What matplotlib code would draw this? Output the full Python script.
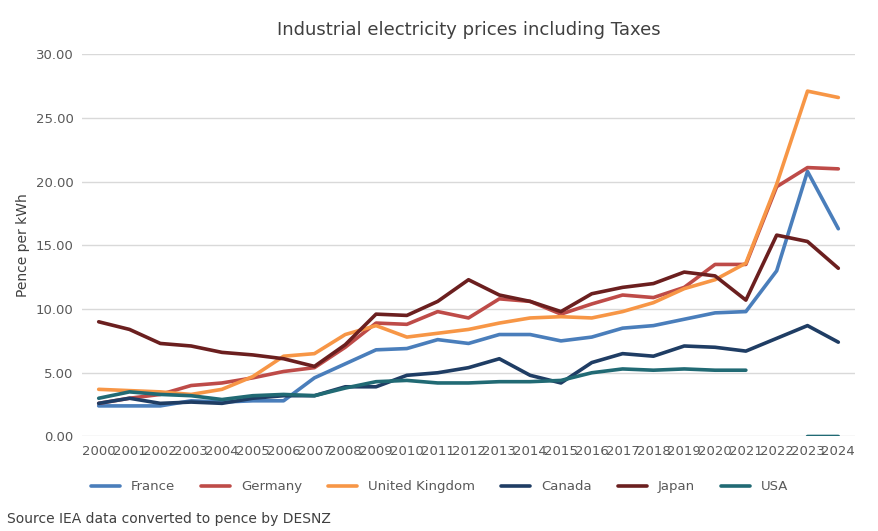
import matplotlib
matplotlib.use("Agg")
import matplotlib.pyplot as plt
import numpy as np

years = list(range(2000, 2025))
france = [2.4,2.4,2.4,2.8,2.7,2.8,2.8,4.6,5.7,6.8,6.9,7.6,7.3,8.0,8.0,7.5,7.8,8.5,8.7,9.2,9.7,9.8,13.0,20.8,16.3]
germany = [2.6,3.0,3.3,4.0,4.2,4.6,5.1,5.4,7.0,8.9,8.8,9.8,9.3,10.8,10.6,9.6,10.4,11.1,10.9,11.7,13.5,13.5,19.6,21.1,21.0]
uk = [3.7,3.6,3.5,3.3,3.7,4.7,6.3,6.5,8.0,8.7,7.8,8.1,8.4,8.9,9.3,9.4,9.3,9.8,10.5,11.6,12.3,13.6,19.8,27.1,26.6]
canada = [2.6,3.0,2.6,2.7,2.6,3.0,3.2,3.2,3.9,3.9,4.8,5.0,5.4,6.1,4.8,4.2,5.8,6.5,6.3,7.1,7.0,6.7,7.7,8.7,7.4]
japan = [9.0,8.4,7.3,7.1,6.6,6.4,6.1,5.5,7.2,9.6,9.5,10.6,12.3,11.1,10.6,9.8,11.2,11.7,12.0,12.9,12.6,10.7,15.8,15.3,13.2]
usa = [3.0,3.5,3.3,3.2,2.9,3.2,3.3,3.2,3.8,4.3,4.4,4.2,4.2,4.3,4.3,4.4,5.0,5.3,5.2,5.3,5.2,5.2,np.nan,0,0]

series = [("France", france, "#4a7ebb"), ("Germany", germany, "#be4b48"),
          ("United Kingdom", uk, "#f79646"), ("Canada", canada, "#1f3d64"),
          ("Japan", japan, "#6b1f1f"), ("USA", usa, "#216a74")]

fig = plt.figure(figsize=(8.79, 5.31), dpi=100)
ax = fig.add_axes([0.093, 0.178, 0.88, 0.72])
x = np.arange(len(years))
for name, vals, c in series:
    ax.plot(x, vals, color=c, lw=2.6, label=name, solid_capstyle="round")
ax.set_xlim(-0.55, len(years) - 0.45)
ax.set_ylim(0, 30)
ax.set_yticks(np.arange(0, 30.1, 5))
ax.set_yticklabels([f"{v:.2f}" for v in np.arange(0, 30.1, 5)], fontsize=9.5, color="#595959")
ax.set_xticks(x)
ax.set_xticklabels([str(y) for y in years], fontsize=9.5, color="#595959")
ax.grid(axis="y", color="#d9d9d9", lw=1)
ax.set_axisbelow(True)
for s in ax.spines.values():
    s.set_visible(False)
ax.tick_params(length=0, pad=6)
ax.set_ylabel("Pence per kWh", fontsize=10, color="#404040")
ax.set_title("Industrial electricity prices including Taxes", fontsize=13, color="#404040", pad=14)
fig.legend(loc="center", bbox_to_anchor=(0.5, 0.083), ncol=6, frameon=False,
           fontsize=9.5, handlelength=2.2, columnspacing=2.0, labelcolor="#595959")
fig.text(0.008, 0.015, "Source IEA data converted to pence by DESNZ", fontsize=10, color="#404040")
fig.savefig("out.png", dpi=100)
